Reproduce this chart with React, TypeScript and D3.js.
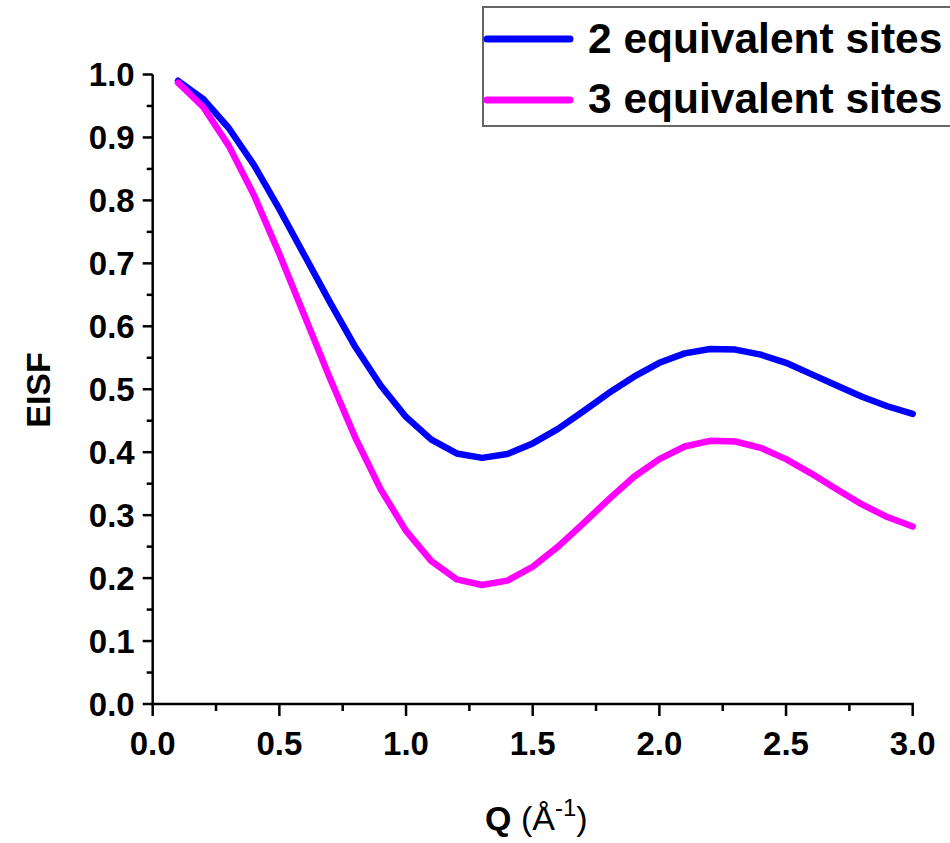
import React from "react";
import * as d3 from "d3";

const qValues = [0.1, 0.2, 0.3, 0.4, 0.5, 0.6, 0.7, 0.8, 0.9, 1.0, 1.1, 1.2, 1.3, 1.4, 1.5, 1.6, 1.7, 1.8, 1.9, 2.0, 2.1, 2.2, 2.3, 2.4, 2.5, 2.6, 2.7, 2.8, 2.9, 3.0];
const twoSites = [0.990, 0.961, 0.915, 0.856, 0.786, 0.712, 0.638, 0.567, 0.506, 0.456, 0.420, 0.398, 0.391, 0.397, 0.414, 0.437, 0.465, 0.494, 0.520, 0.542, 0.557, 0.564, 0.563, 0.555, 0.542, 0.524, 0.506, 0.488, 0.473, 0.461];
const threeSites = [0.987, 0.948, 0.887, 0.808, 0.715, 0.616, 0.517, 0.423, 0.341, 0.275, 0.227, 0.198, 0.189, 0.196, 0.218, 0.250, 0.287, 0.325, 0.361, 0.389, 0.409, 0.418, 0.417, 0.407, 0.389, 0.366, 0.341, 0.317, 0.297, 0.282];
const seriesNames = ["2 equivalent sites", "3 equivalent sites"];
const seriesColors = ["#0000ff", "#ff00ff"];
const xTicks = [0.0, 0.5, 1.0, 1.5, 2.0, 2.5, 3.0];
const xMinor = [0.25, 0.75, 1.25, 1.75, 2.25, 2.75];
const yTicks = [0.0, 0.1, 0.2, 0.3, 0.4, 0.5, 0.6, 0.7, 0.8, 0.9, 1.0];
const yMinor = [0.05, 0.15, 0.25, 0.35, 0.45, 0.55, 0.65, 0.75, 0.85, 0.95];

const FONT = "Arial, 'Liberation Sans', Helvetica, sans-serif";

export default function App() {
  const x = d3.scaleLinear().domain([0, 3]).range([152.7, 912.7]);
  const y = d3.scaleLinear().domain([0, 1]).range([704, 74.5]);
  const series = [twoSites, threeSites];
  const line = d3
    .line<number>()
    .x((_, i) => x(qValues[i]))
    .y((d) => y(d))
    .curve(d3.curveLinear);

  const axisY = y(0);
  const axisX = x(0);

  return (
    <svg
      width={950}
      height={843}
      style={{ position: "absolute", left: 0, top: 0, background: "#fff" }}
      fontFamily={FONT}
    >
      <rect x={0} y={0} width={950} height={843} fill="#fff" />
      {/* curves */}
      {series.map((s, k) => (
        <path
          key={k}
          d={line(s) || ""}
          fill="none"
          stroke={seriesColors[k]}
          strokeWidth={6.5}
          strokeLinejoin="round"
          strokeLinecap="round"
        />
      ))}

      {/* y axis */}
      <line x1={axisX} x2={axisX} y1={y(0) + 1.2} y2={y(1)} stroke="#000" strokeWidth={2.5} />
      {yTicks.map((t) => (
        <g key={"y" + t}>
          <line x1={axisX - 10} x2={axisX} y1={y(t)} y2={y(t)} stroke="#000" strokeWidth={2.5} />
          <text
            x={axisX - 18}
            y={y(t)}
            dy="0.36em"
            textAnchor="end"
            fontSize={33}
            fontWeight="bold"
          >
            {t.toFixed(1)}
          </text>
        </g>
      ))}
      {yMinor.map((t) => (
        <line key={"ym" + t} x1={axisX - 6} x2={axisX} y1={y(t)} y2={y(t)} stroke="#000" strokeWidth={2.5} />
      ))}

      {/* x axis */}
      <line x1={x(0) - 1.2} x2={x(3) + 1.2} y1={axisY} y2={axisY} stroke="#000" strokeWidth={2.5} />
      {xTicks.map((t) => (
        <g key={"x" + t}>
          <line x1={x(t)} x2={x(t)} y1={axisY} y2={axisY + 12} stroke="#000" strokeWidth={2.5} />
          <text
            x={x(t)}
            y={755}
            textAnchor="middle"
            fontSize={33}
            fontWeight="bold"
          >
            {t.toFixed(1)}
          </text>
        </g>
      ))}
      {xMinor.map((t) => (
        <line key={"xm" + t} x1={x(t)} x2={x(t)} y1={axisY} y2={axisY + 7} stroke="#000" strokeWidth={2.5} />
      ))}

      {/* axis titles */}
      <text
        transform={`translate(50, 390) rotate(-90)`}
        textAnchor="middle"
        fontSize={34}
        fontWeight="bold"
      >
        EISF
      </text>
      <text x={485} y={830} fontSize={34}>
        <tspan fontWeight="bold">Q</tspan>
        <tspan> (Å</tspan>
        <tspan dy={-14} fontSize={24}>-1</tspan>
        <tspan dy={14}>)</tspan>
      </text>

      {/* legend */}
      <rect x={483} y={7} width={480} height={119} fill="#fff" stroke="#666" strokeWidth={2} />
      {seriesNames.map((name, k) => (
        <g key={name}>
          <line
            x1={487}
            x2={570}
            y1={39 + k * 61}
            y2={39 + k * 61}
            stroke={seriesColors[k]}
            strokeWidth={7}
            strokeLinecap="round"
          />
          <text x={588} y={53 + k * 60} fontSize={42.5} fontWeight="bold">
            {name}
          </text>
        </g>
      ))}
    </svg>
  );
}
